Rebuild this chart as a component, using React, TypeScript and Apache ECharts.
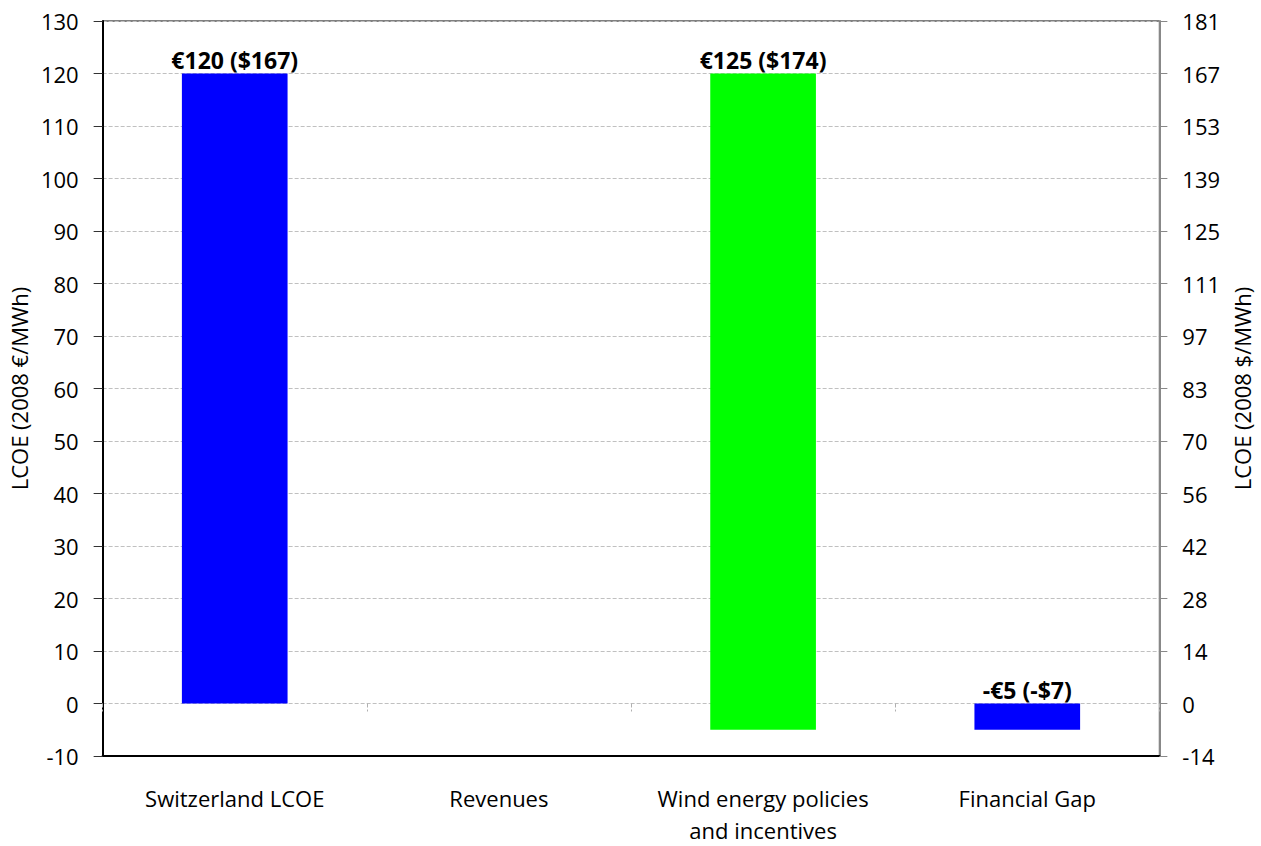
import React, { useEffect, useRef } from "react";
import * as echarts from "echarts";

// Cost build-up categories (waterfall style)
const categories = [
  "Switzerland LCOE",
  "Revenues",
  "Wind energy policies\nand incentives",
  "Financial Gap",
];
// Where each visible bar starts (€/MWh)
const barBase = [0, 0, -5, 0];
// Bar spans in €/MWh and their dollar equivalents
const eurValues: (number | null)[] = [120, null, 125, -5];
const usdValues: (number | null)[] = [167, null, 174, -7];
const barColors = ["#0000ff", "#ffffff", "#00ff00", "#0000ff"];

// Left axis scale (€/MWh) and euro→dollar rate for the right axis
const eurMin = -10;
const eurMax = 130;
const eurStep = 10;
const usdPerEur = 1.39;

const FONT = "'Open Sans', 'DejaVu Sans', sans-serif";

export default function App() {
  const ref = useRef<HTMLDivElement>(null);

  useEffect(() => {
    if (!ref.current) return;
    const chart = echarts.init(ref.current, undefined, { renderer: "svg" });

    const labelAnchors = barBase.map((b, i) => {
      const v = eurValues[i];
      return v == null ? null : Math.max(b, b + v);
    });

    const fmtMoney = (sym: string, v: number) =>
      (v < 0 ? "-" : "") + sym + Math.abs(v);

    chart.setOption({
      animation: false,
      backgroundColor: "#ffffff",
      textStyle: { fontFamily: FONT },
      grid: {
        left: 100,
        right: 97,
        top: 21,
        bottom: 84,
        show: true,
        borderColor: "#000000",
        borderWidth: 1,
        backgroundColor: "transparent",
      },
      xAxis: [
        {
          type: "category",
          data: categories,
          position: "bottom",
          axisLine: { onZero: false, lineStyle: { color: "#000000", width: 2 } },
          axisTick: { show: false },
          axisLabel: {
            interval: 0,
            color: "#000000",
            fontSize: 22,
            fontFamily: FONT,
            margin: 26,
            lineHeight: 32,
          },
          splitLine: { show: false },
        },
        {
          type: "category",
          data: categories,
          position: "bottom",
          axisLine: { show: false, onZero: true },
          axisTick: {
            show: true,
            length: 8,
            lineStyle: { color: "#b0b0b0", type: "dashed", width: 1 },
          },
          axisLabel: { show: false },
          splitLine: { show: false },
        },
      ],
      yAxis: [
        {
          type: "value",
          min: eurMin,
          max: eurMax,
          interval: eurStep,
          name: "LCOE (2008 €/MWh)",
          nameLocation: "middle",
          nameRotate: 90,
          nameGap: 61,
          nameTextStyle: { fontSize: 22, color: "#000000", fontFamily: FONT },
          axisLine: { show: true, lineStyle: { color: "#000000", width: 2 } },
          axisTick: { show: true, length: 9, lineStyle: { color: "#333333" } },
          axisLabel: { color: "#000000", fontSize: 22, margin: 24, fontFamily: FONT },
          splitLine: {
            show: true,
            lineStyle: { color: "#c0c0c0", type: "dashed", width: 1 },
          },
        },
        {
          type: "value",
          min: eurMin * usdPerEur,
          max: eurMax * usdPerEur,
          interval: eurStep * usdPerEur,
          position: "right",
          name: "LCOE (2008 $/MWh)",
          nameLocation: "middle",
          nameRotate: 90,
          nameGap: 67,
          nameTextStyle: { fontSize: 22, color: "#000000", fontFamily: FONT },
          axisLine: { show: true, lineStyle: { color: "#888888", width: 2 } },
          axisTick: { show: true, length: 8, lineStyle: { color: "#888888" } },
          axisLabel: {
            color: "#000000",
            fontSize: 22,
            margin: 23,
            fontFamily: FONT,
            formatter: (v: number) => String(Math.round(v) || 0),
          },
          splitLine: { show: false },
        },
      ],
      series: [
        {
          name: "base",
          type: "bar",
          stack: "cost",
          stackStrategy: "all",
          xAxisIndex: 0,
          yAxisIndex: 0,
          barWidth: "40%",
          itemStyle: { color: "transparent" },
          silent: true,
          data: barBase,
        },
        {
          name: "cost",
          type: "bar",
          stack: "cost",
          stackStrategy: "all",
          xAxisIndex: 0,
          yAxisIndex: 0,
          barWidth: "40%",
          data: eurValues.map((v, i) => ({
            value: v,
            itemStyle: { color: barColors[i] },
          })),
        },
        {
          name: "labels",
          type: "scatter",
          xAxisIndex: 0,
          yAxisIndex: 0,
          symbolSize: 0,
          silent: true,
          data: labelAnchors.map((a, i) => (a == null ? null : [i, a])),
          label: {
            show: true,
            position: "top",
            distance: 2,
            color: "#000000",
            opacity: 1,
            textBorderWidth: 0,
            fontSize: 23,
            fontWeight: "bold",
            fontFamily: FONT,
            formatter: (p: any) => {
              const i = p.dataIndex;
              const e = eurValues[i];
              const u = usdValues[i];
              if (e == null || u == null) return "";
              return `${fmtMoney("€", e)} (${fmtMoney("$", u)})`;
            },
          },
        },
      ],
    });

    return () => chart.dispose();
  }, []);

  return (
    <div
      ref={ref}
      style={{ position: "absolute", left: 0, top: 0, width: 1261, height: 846 }}
    />
  );
}
